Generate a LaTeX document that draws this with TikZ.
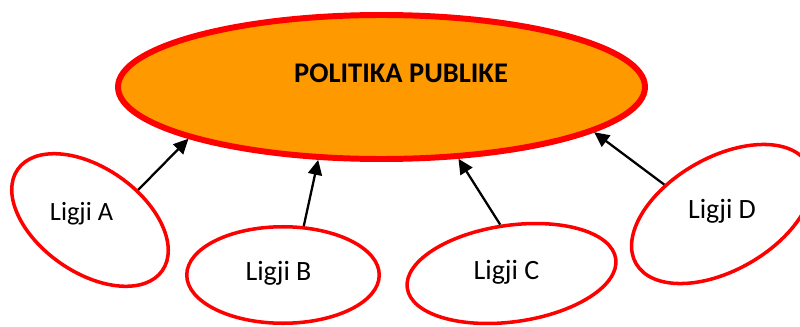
\documentclass[tikz,border=0pt]{standalone}
\usepackage{fontspec}
\setmainfont{Carlito}
\usepackage{xcolor}
\usetikzlibrary{shapes.geometric, arrows.meta}
\definecolor{polOrange}{HTML}{FF9900}
\definecolor{polRed}{HTML}{FF0000}

\begin{document}
\begin{tikzpicture}[
  every node/.style={inner sep=0pt},
  ligjiShape/.style={ellipse, draw=polRed, line width=2pt, fill=white},
  ligjiText/.style={anchor=base, font=\fontsize{15.9}{18}\selectfont},
  arr/.style={-{Triangle[length=0.3cm, width=0.28cm]}, line width=1.3pt, black}
]
\useasboundingbox (0,0) rectangle (16,6.52);
% Main ellipse
\node[ellipse, draw=polRed, fill=polOrange, line width=3.4pt,
      minimum width=10.54cm, minimum height=2.88cm] (politika) at (7.63,4.78) {};
\node[anchor=base, font=\bfseries\fontsize{16.2}{19}\selectfont] (titulli) at (8.02,4.86) {POLITIKA PUBLIKE};
% Four law ellipses (name/x/y/rotation/width/height)
\foreach \n/\x/\y/\r/\w/\h in {A/1.8/2.12/-35/3.53/2.09, B/5.66/1.02/0/3.85/1.93,
                              C/10.23/1.05/8/4.21/1.93, D/14.44/2.24/30/3.97/2.25} {
  \node[ligjiShape, rotate=\r, minimum width=\w cm, minimum height=\h cm] (ligji\n) at (\x,\y) {};
}
% Labels
\node[ligjiText, font=\fontsize{15}{18}\selectfont] (tekstA) at (1.63,2.12) {Ligji A};
\foreach \n/\x/\y in {B/5.57/0.92, C/10.13/0.94, D/14.44/2.16} {
  \node[ligjiText] (tekst\n) at (\x,\y) {Ligji \n};
}
% Arrows towards the main ellipse
\foreach \n/\a/\b in {A/67/195, B/67/229, C/95/317, D/123/348} {
  \draw[arr] (ligji\n.\a) -- (politika.\b);
}
\end{tikzpicture}
\end{document}
